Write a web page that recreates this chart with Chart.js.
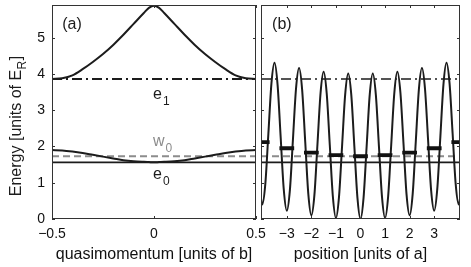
<!DOCTYPE html>
<html>
<head>
<meta charset="utf-8">
<script src="https://cdn.jsdelivr.net/npm/chart.js@4"></script>
<style>
  html, body { margin: 0; padding: 0; background: #fff; }
  #wrap { position: relative; width: 471px; height: 267px; overflow: hidden; background: #fff; }
  canvas { position: absolute; top: 0; }
  #band-chart { left: 0; }
  #site-chart { left: 250px; }
</style>
</head>
<body>
<div id="wrap">
  <canvas id="band-chart" width="275" height="267"></canvas>
  <canvas id="site-chart" width="221" height="267"></canvas>
</div>
<script>
// ---- data ----
const quasimomentum = [-0.5, -0.45, -0.4, -0.35, -0.3, -0.25, -0.2, -0.15, -0.1, -0.05, -0.025, 0,
                       0.025, 0.05, 0.1, 0.15, 0.2, 0.25, 0.3, 0.35, 0.4, 0.45, 0.5];
const upperBand = [3.86, 3.88, 3.96, 4.13, 4.33, 4.55, 4.80, 5.08, 5.38, 5.68, 5.82, 5.88,
                   5.82, 5.68, 5.38, 5.08, 4.80, 4.55, 4.33, 4.13, 3.96, 3.88, 3.86];
const lowerBand = [1.90, 1.89, 1.86, 1.82, 1.77, 1.72, 1.67, 1.62, 1.59, 1.575, 1.57, 1.565,
                   1.57, 1.575, 1.59, 1.62, 1.67, 1.72, 1.77, 1.82, 1.86, 1.89, 1.90];
const levelE1 = 3.86;
const levelW0 = 1.73;
const levelE0 = 1.56;

const position = [-4.125, -4, -3.875, -3.75, -3.625, -3.5, -3.375, -3.25, -3.125, -3, -2.875, -2.75, -2.625,
  -2.5, -2.375, -2.25, -2.125, -2, -1.875, -1.75, -1.625, -1.5, -1.375, -1.25, -1.125, -1, -0.875, -0.75,
  -0.625, -0.5, -0.375, -0.25, -0.125, 0, 0.125, 0.25, 0.375, 0.5, 0.625, 0.75, 0.875, 1, 1.125, 1.25,
  1.375, 1.5, 1.625, 1.75, 1.875, 2, 2.125, 2.25, 2.375, 2.5, 2.625, 2.75, 2.875, 3, 3.125, 3.25, 3.375,
  3.5, 3.625, 3.75, 3.875, 4, 4.125];
const potential = [1.01, 0.40, 0.96, 2.35, 3.74, 4.31, 3.70, 2.26, 0.83, 0.23, 0.79, 2.19, 3.59,
  4.16, 3.56, 2.13, 0.70, 0.10, 0.67, 2.08, 3.48, 4.06, 3.46, 2.04, 0.62, 0.03, 0.61, 2.01,
  3.42, 4.01, 3.42, 2.00, 0.59, 0, 0.59, 2.00, 3.42, 4.01, 3.42, 2.01, 0.61, 0.03, 0.62, 2.04,
  3.46, 4.06, 3.48, 2.08, 0.67, 0.10, 0.70, 2.13, 3.56, 4.16, 3.59, 2.19, 0.79, 0.23, 0.83,
  2.26, 3.70, 4.31, 3.74, 2.35, 0.96, 0.40, 1.01];
const sites = [-4, -3, -2, -1, 0, 1, 2, 3, 4];
const siteLevels = [2.12, 1.95, 1.83, 1.76, 1.73, 1.76, 1.83, 1.95, 2.12];

const bandTicks = [-0.5, 0, 0.5];
const positionTicks = [-3, -2, -1, 0, 1, 2, 3];
const energyTicks = [0, 1, 2, 3, 4, 5];

// ---- helpers ----
const FONT = "'Liberation Sans', Arial, Helvetica, sans-serif";
Chart.defaults.font.family = FONT;
Chart.defaults.color = '#111';

const INK = '#1c1c1c';
const GREY = '#8c8c8c';
const minus = v => (v < 0 ? '\u2212' + Math.abs(v) : String(v));

function hline(x0, x1, y) {
  return [{ x: x0, y: y }, { x: x1, y: y }];
}

function drawSub(ctx, x, y, main, sub, color) {
  ctx.fillStyle = color;
  ctx.textBaseline = 'middle';
  ctx.textAlign = 'left';
  ctx.font = '16px ' + FONT;
  ctx.fillText(main, x, y);
  const w = ctx.measureText(main).width;
  ctx.font = '12px ' + FONT;
  ctx.fillText(sub, x + w + 1, y + 7);
}

function framePlugin(xTicks, yTicks, notes, extra) {
  return {
    id: 'frame',
    afterDatasetsDraw(chart) {
      const ctx = chart.ctx;
      const a = chart.chartArea;
      const xs = chart.scales.x, ys = chart.scales.y;
      ctx.save();
      ctx.strokeStyle = '#333';
      ctx.lineWidth = 1;
      ctx.strokeRect(a.left + 0.5, a.top + 0.5, a.right - a.left - 1, a.bottom - a.top - 1);
      ctx.beginPath();
      xTicks.forEach(v => {
        const px = Math.round(xs.getPixelForValue(v)) + 0.5;
        ctx.moveTo(px, a.bottom); ctx.lineTo(px, a.bottom - 3);
        ctx.moveTo(px, a.top); ctx.lineTo(px, a.top + 3);
      });
      yTicks.forEach(v => {
        const py = Math.round(ys.getPixelForValue(v)) + 0.5;
        ctx.moveTo(a.left, py); ctx.lineTo(a.left + 3, py);
        ctx.moveTo(a.right, py); ctx.lineTo(a.right - 3, py);
      });
      ctx.stroke();
      notes.forEach(n => {
        const px = xs.getPixelForValue(n.x), py = ys.getPixelForValue(n.y);
        if (n.sub) {
          drawSub(ctx, px, py, n.text, n.sub, n.color || INK);
        } else {
          ctx.fillStyle = INK;
          ctx.font = '16px ' + FONT;
          ctx.textAlign = 'left';
          ctx.textBaseline = 'middle';
          ctx.fillText(n.text, px, py);
        }
      });
      if (extra) extra(ctx, chart);
      ctx.restore();
    }
  };
}

function lineSet(data, color, width, dash) {
  return {
    data: data, borderColor: color, borderWidth: width, borderDash: dash || [],
    pointRadius: 0, fill: false, tension: 0
  };
}

function xAxis(min, max, ticks, title) {
  return {
    type: 'linear', min: min, max: max,
    afterBuildTicks: s => { s.ticks = ticks.map(v => ({ value: v })); },
    afterFit: s => { s.height = 48; s.paddingLeft = 0; s.paddingRight = 0; },
    grid: { display: false, drawTicks: false },
    border: { display: false },
    ticks: { autoSkip: false, maxRotation: 0, padding: 7, font: { size: 14 }, callback: v => minus(v) },
    title: { display: true, text: title, font: { size: 16 }, padding: { top: 0, bottom: 3 } }
  };
}

function yAxis(width, showLabels) {
  return {
    type: 'linear', min: 0, max: 5.9,
    afterBuildTicks: s => { s.ticks = energyTicks.map(v => ({ value: v })); },
    afterFit: s => { s.width = width; s.paddingTop = 0; s.paddingBottom = 0; },
    grid: { display: false, drawTicks: false },
    border: { display: false },
    ticks: { display: showLabels, padding: 7, font: { size: 14 } }
  };
}

// ---- (a) band structure ----
const bandData = {
  datasets: [
    Object.assign(lineSet(quasimomentum.map((q, i) => ({ x: q, y: upperBand[i] })), INK, 2),
      { cubicInterpolationMode: 'monotone' }),
    Object.assign(lineSet(quasimomentum.map((q, i) => ({ x: q, y: lowerBand[i] })), INK, 2),
      { cubicInterpolationMode: 'monotone' }),
    lineSet(hline(-0.5, 0.5, levelE1), INK, 2, [10, 4, 2, 4]),
    lineSet(hline(-0.5, 0.5, levelW0), GREY, 1.9, [7, 4]),
    lineSet(hline(-0.5, 0.5, levelE0), INK, 1.9)
  ]
};

new Chart(document.getElementById('band-chart'), {
  type: 'line',
  data: bandData,
  options: {
    responsive: false,
    animation: false,
    layout: { padding: { left: 0, right: 19, top: 5, bottom: 0 } },
    plugins: { legend: { display: false }, tooltip: { enabled: false } },
    scales: {
      x: xAxis(-0.5, 0.5, bandTicks, 'quasimomentum [units of b]'),
      y: yAxis(52, true)
    }
  },
  plugins: [framePlugin(bandTicks, energyTicks, [
    { x: -0.45, y: 5.36, text: '(a)' },
    { x: -0.005, y: 3.43, text: 'e', sub: '1' },
    { x: -0.005, y: 2.13, text: 'w', sub: '0', color: GREY },
    { x: -0.005, y: 1.22, text: 'e', sub: '0' }
  ], (ctx, chart) => {
    // y axis title with subscript R
    ctx.save();
    ctx.translate(17, 126);
    ctx.rotate(-Math.PI / 2);
    ctx.fillStyle = INK;
    ctx.textBaseline = 'middle';
    ctx.textAlign = 'left';
    ctx.font = '16px ' + FONT;
    const t1 = 'Energy [units of E';
    const w1 = ctx.measureText(t1).width;
    ctx.font = '12px ' + FONT;
    const wr = ctx.measureText('R').width;
    ctx.font = '16px ' + FONT;
    const w2 = ctx.measureText(']').width;
    const x0 = -(w1 + wr + w2 + 1) / 2;
    ctx.fillText(t1, x0, 0);
    ctx.font = '12px ' + FONT;
    ctx.fillText('R', x0 + w1 + 0.5, 6);
    ctx.font = '16px ' + FONT;
    ctx.fillText(']', x0 + w1 + wr + 1, 0);
    ctx.restore();
  })]
});

// ---- (b) lattice potential and site energies ----
const siteBars = [];
sites.forEach((s, i) => {
  siteBars.push({ x: s - 0.3, y: siteLevels[i] }, { x: s + 0.3, y: siteLevels[i] }, { x: s + 0.3, y: null });
});

new Chart(document.getElementById('site-chart'), {
  type: 'line',
  data: {
    datasets: [
      Object.assign(lineSet(siteBars, '#111', 3.8), { spanGaps: false, borderCapStyle: 'butt' }),
      Object.assign(lineSet(position.map((p, i) => ({ x: p, y: potential[i] })), INK, 2),
        { cubicInterpolationMode: 'monotone' }),
      lineSet(hline(-4.05, 4.05, levelE1), INK, 1.7, [10, 4, 2, 4]),
      lineSet(hline(-4.05, 4.05, levelW0), GREY, 1.9, [7, 4]),
      lineSet(hline(-4.05, 4.05, levelE0), INK, 1.9)
    ]
  },
  options: {
    responsive: false,
    animation: false,
    layout: { padding: { left: 11, right: 11, top: 5, bottom: 0 } },
    plugins: { legend: { display: false }, tooltip: { enabled: false } },
    scales: {
      x: xAxis(-4.05, 4.05, positionTicks, 'position [units of a]'),
      y: yAxis(0, false)
    }
  },
  plugins: [framePlugin(positionTicks, energyTicks, [
    { x: -3.6, y: 5.36, text: '(b)' }
  ])]
});
</script>
</body>
</html>
